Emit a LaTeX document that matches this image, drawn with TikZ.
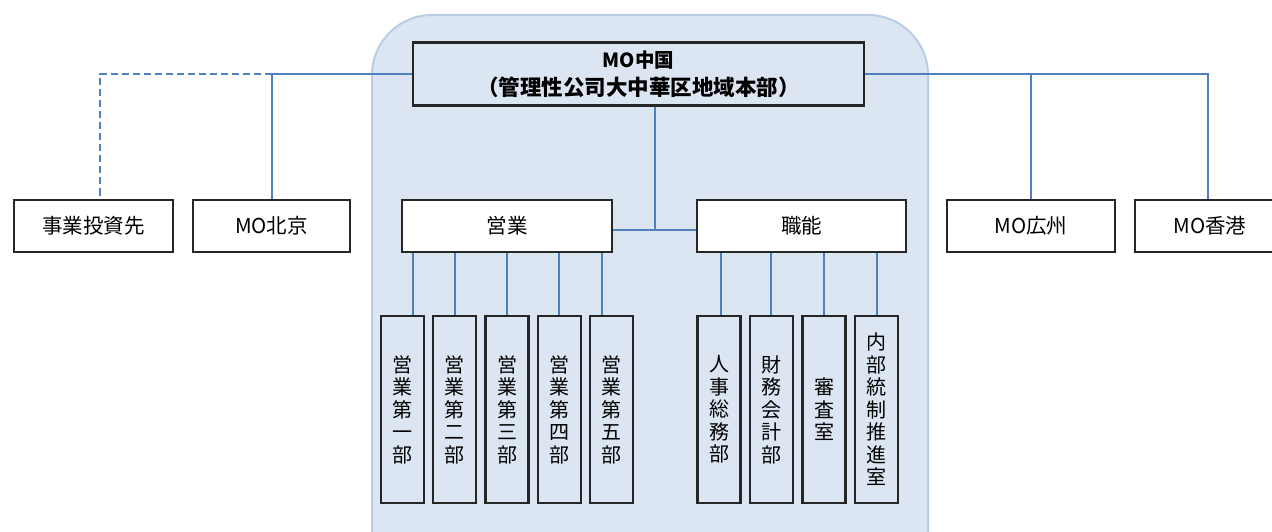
\documentclass[tikz,border=0pt]{standalone}
\usepackage{fontspec}
\setmainfont{Noto Sans CJK JP}
\usepackage{tikz}
\definecolor{bandfill}{RGB}{220, 230, 242}
\definecolor{bandline}{RGB}{185, 205, 229}
\definecolor{linkblue}{RGB}{79, 129, 189}
\definecolor{boxline}{RGB}{38, 38, 38}

\begin{document}
\begin{tikzpicture}[x=1pt, y=-1pt,
    unit/.style={draw=boxline, line width=2.2pt, fill=white, minimum height=52pt,
      inner sep=0pt, font=\fontsize{20.5}{24}\selectfont},
    dept/.style={draw=boxline, line width=2.2pt, fill=bandfill, minimum width=43pt,
      minimum height=187pt, inner sep=0pt, align=center,
      font=\fontsize{20}{22.5}\selectfont},
    link/.style={draw=linkblue, line width=2pt}]
  \useasboundingbox (0, 0) rectangle (1272, 532);

  \begin{scope}
    \clip (0, 0) rectangle (1272, 532);
    \draw [rounded corners=60pt, fill=bandfill, draw=bandline, line width=2pt]
      (372, 15) rectangle (928, 620);

    \node [unit, fill=bandfill, minimum width=451pt, minimum height=63pt, align=center,
      font=\bfseries\fontsize{19.5}{28}\selectfont] (china) at (638.5, 74)
      {MO中国\\{\fontsize{21.5}{28}\selectfont（管理性公司大中華区地域本部）}};

    \node [unit, minimum width=159pt] (toshi) at (93.5, 226) {事業投資先};
    \node [unit, minimum width=157pt] (beijing) at (271.5, 226) {MO北京};
    \node [unit, minimum width=168pt] (guangzhou) at (1031, 226) {MO広州};
    \node [unit, minimum width=150pt] (hongkong) at (1210, 226) {MO香港};
    \node [unit, minimum width=210pt] (eigyo) at (507, 226) {営業};
    \node [unit, minimum width=209pt] (shokuno) at (801.5, 226) {職能};

    % sales departments
    \node [dept] (eigyo1) at (402.5, 409.5) {営\\業\\第\\一\\部};
    \node [dept] (eigyo2) at (454.5, 409.5) {営\\業\\第\\二\\部};
    \node [dept] (eigyo3) at (507, 409.5) {営\\業\\第\\三\\部};
    \node [dept] (eigyo4) at (559.5, 409.5) {営\\業\\第\\四\\部};
    \node [dept] (eigyo5) at (611.5, 409.5) {営\\業\\第\\五\\部};

    % staff departments
    \node [dept] (shokuno1) at (719, 409.5) {人\\事\\総\\務\\部};
    \node [dept] (shokuno2) at (771.5, 409.5) {財\\務\\会\\計\\部};
    \node [dept] (shokuno3) at (824, 409.5) {審\\査\\室};
    \node [dept] (shokuno4) at (876.5, 409.5) {内\\部\\統\\制\\推\\進\\室};

    \coordinate (hub) at (655, 230);

    \draw [link] (china.west) -| (beijing.north);
    \draw [link, dashed, dash pattern=on 7pt off 4pt]
      (beijing.north |- china.west) -| ([xshift=6.5pt]toshi.north);
    \draw [link] (china.east) -| ([xshift=-2pt]hongkong.north);
    \draw [link] (guangzhou.north) -- (guangzhou.north |- china.east);

    \draw [link] (hub |- china.south) -- (hub);
    \draw [link] (eigyo.east |- hub) -- (shokuno.west |- hub);

    \foreach \n/\dx in {1/10.5, 2/0.5, 3/0, 4/-0.5, 5/-9.5} {
      \draw [link] ([xshift=\dx pt]eigyo\n.north) -- ([xshift=\dx pt]eigyo\n.north |- eigyo.south);
    }
    \foreach \n/\dx in {1/2, 2/-0.5, 3/0, 4/0.5} {
      \draw [link] ([xshift=\dx pt]shokuno\n.north) -- ([xshift=\dx pt]shokuno\n.north |- shokuno.south);
    }
  \end{scope}
\end{tikzpicture}
\end{document}
